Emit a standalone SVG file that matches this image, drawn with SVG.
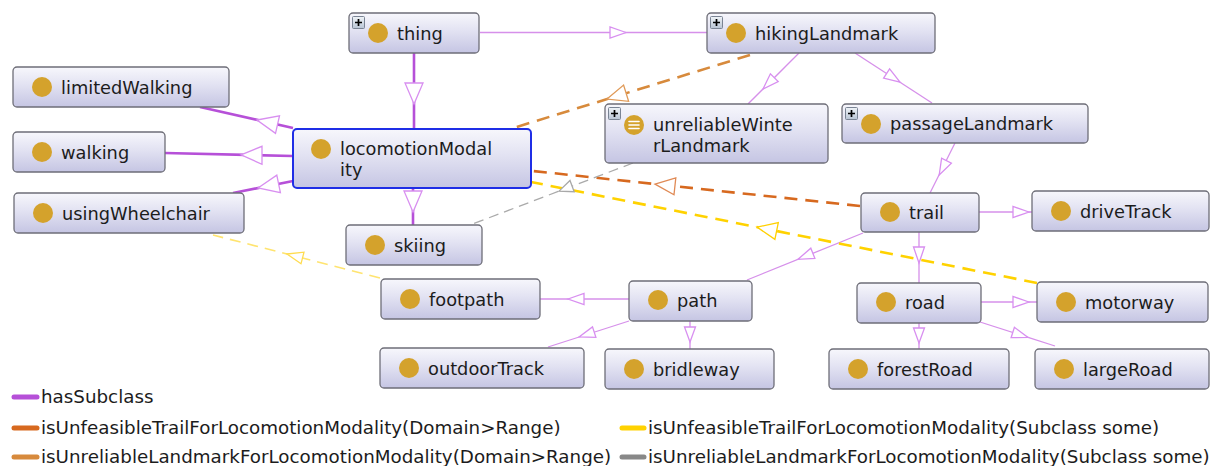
<svg xmlns="http://www.w3.org/2000/svg" width="1211" height="466" viewBox="0 0 1211 466">
<style>
.node{fill:url(#ng);stroke:#6e6e78;stroke-width:1.3}
.sel{fill:url(#ng);stroke:#1f2ee6;stroke-width:2}
.dot{fill:#d4a22c}
.lbl{font-family:"DejaVu Sans",sans-serif;font-size:17.8px;fill:#1c1c1c}
.leg{font-family:"DejaVu Sans",sans-serif;font-size:18.3px;fill:#1c1c1c}
.sub{stroke:#d690ea;stroke-width:1.3;fill:none}
.subT{stroke:#b650d8;stroke-width:2.6;fill:none}
.ah{fill:#fff;stroke:#d88ff0;stroke-width:1.3}
.ufd{stroke:#d7691f;stroke-width:2.6;fill:none;stroke-dasharray:13 8}
.urd{stroke:#d78a3c;stroke-width:2.6;fill:none;stroke-dasharray:13 8}
.ufs{stroke:#ffd200;stroke-width:2.6;fill:none;stroke-dasharray:13 8}
.ufs2{stroke:#ffe470;stroke-width:1.6;fill:none;stroke-dasharray:11 7}
.urs{stroke:#aaaaaa;stroke-width:1.3;fill:none;stroke-dasharray:10 6}
.ahufd{fill:#fff;stroke:#e08a55;stroke-width:1.3}
.ahurd{fill:#fff;stroke:#e09a58;stroke-width:1.3}
.ahufs{fill:#fff;stroke:#ffd000;stroke-width:1.3}
.ahufs2{fill:#fff;stroke:#ffdc50;stroke-width:1.3}
.ahurs{fill:#fff;stroke:#a8a8a8;stroke-width:1.3}
</style>
<defs>
<linearGradient id="ng" x1="0" y1="0" x2="0" y2="1">
<stop offset="0" stop-color="#f7f7fc"/>
<stop offset="0.45" stop-color="#e2e2f2"/>
<stop offset="1" stop-color="#c5c5e3"/>
</linearGradient>
<linearGradient id="pg" x1="0" y1="0" x2="0" y2="1">
<stop offset="0" stop-color="#f0f4f8"/>
<stop offset="1" stop-color="#b8c4d4"/>
</linearGradient>
<g id="plus">
<rect x="0.5" y="0.5" width="12" height="12" rx="1" fill="url(#pg)" stroke="#7a8494" stroke-width="1"/>
<path d="M3 6.5h7M6.5 3v7" stroke="#000" stroke-width="1.7"/>
</g>
</defs>

<g id="connectors">
<!-- hasSubclass -->
<line class="sub" x1="480" y1="32.5" x2="707" y2="32.5"/>
<polygon class="ah" points="626,32.5 610,27 610,38"/>
<line class="subT" x1="414" y1="53" x2="414" y2="129"/>
<polygon class="ah" points="414,104 405,83 423,83"/>
<line class="subT" x1="293" y1="128" x2="200" y2="107"/>
<polygon class="ah" points="257,120 279.5,115.8 275.5,133.4"/>
<line class="subT" x1="293" y1="156" x2="165" y2="153"/>
<polygon class="ah" points="241,154.8 262,146.3 262,164.3"/>
<line class="subT" x1="293" y1="181" x2="233" y2="193"/>
<polygon class="ah" points="258,188 276.8,175.1 280.4,192.7"/>
<line class="subT" x1="413" y1="188" x2="413" y2="225"/>
<polygon class="ah" points="413,212 404,191 422,191"/>
<line class="sub" x1="799" y1="53" x2="748" y2="104"/>
<polygon class="ah" points="763,89 770.4,73.8 778.2,81.6"/>
<line class="sub" x1="855" y1="53" x2="932" y2="103"/>
<polygon class="ah" points="900,82.2 883.6,78.1 889.6,68.9"/>
<line class="sub" x1="955" y1="143" x2="930" y2="193"/>
<polygon class="ah" points="939.2,175 941.6,158.2 951.4,163.2"/>
<line class="sub" x1="979" y1="212" x2="1032" y2="212"/>
<polygon class="ah" points="1029,212 1013,206.5 1013,217.5"/>
<line class="sub" x1="919" y1="232" x2="919" y2="283"/>
<polygon class="ah" points="919,263 913.5,247 924.5,247"/>
<line class="sub" x1="863" y1="233" x2="747" y2="280"/>
<polygon class="ah" points="798,259.3 810.8,248.2 814.9,258.4"/>
<line class="sub" x1="981" y1="302" x2="1037" y2="302"/>
<polygon class="ah" points="1029,302 1013,296.5 1013,307.5"/>
<line class="sub" x1="919" y1="323" x2="919" y2="349"/>
<polygon class="ah" points="919,343 913.5,328 924.5,328"/>
<line class="sub" x1="980" y1="322" x2="1055" y2="346"/>
<polygon class="ah" points="1028,337.4 1011.1,337.7 1014.4,327.3"/>
<line class="sub" x1="629" y1="299" x2="540" y2="299"/>
<polygon class="ah" points="568,299 584,293.5 584,304.5"/>
<line class="sub" x1="629" y1="321" x2="548" y2="347"/>
<polygon class="ah" points="579,337 592.5,326.9 595.9,337.3"/>
<line class="sub" x1="690" y1="321" x2="690" y2="349"/>
<polygon class="ah" points="690,342 684.5,327 695.5,327"/>
<!-- object properties -->
<line class="urd" x1="750" y1="55" x2="510" y2="129"/>
<polygon class="ahurd" points="607,99.1 623.6,85.1 628.6,101.3"/>
<line class="ufd" x1="860" y1="206" x2="533" y2="171"/>
<polygon class="ahufd" points="655,184.1 675.8,177.8 674,194.7"/>
<line class="ufs" x1="1037" y1="283" x2="531" y2="182"/>
<polygon class="ahufs" points="757,227.1 778.3,222.7 774.9,239.3"/>
<line class="ufs2" x1="380" y1="278" x2="213" y2="235"/>
<polygon class="ahufs2" points="287,254 304,252.2 301,263.8"/>
<line class="urs" x1="633" y1="163" x2="470" y2="225"/>
<polygon class="ahurs" points="559,191.1 570,180.5 574.2,191.7"/>
</g>

<g id="n-thing"><rect class="node" x="349" y="13" width="130" height="40" rx="4"/><circle class="dot" cx="378" cy="33" r="10"/><text class="lbl" x="397" y="39.5">thing</text><use href="#plus" x="352" y="16"/></g>
<g id="n-hikingLandmark"><rect class="node" x="707" y="13" width="228" height="40" rx="4"/><circle class="dot" cx="736" cy="33" r="10"/><text class="lbl" x="755" y="39.5">hikingLandmark</text><use href="#plus" x="710" y="16"/></g>
<g id="n-limitedWalking"><rect class="node" x="13" y="67" width="216" height="40" rx="4"/><circle class="dot" cx="42" cy="87" r="10"/><text class="lbl" x="61" y="93.5">limitedWalking</text></g>
<g id="n-walking"><rect class="node" x="13" y="132" width="152" height="40" rx="4"/><circle class="dot" cx="42" cy="152" r="10"/><text class="lbl" x="61" y="158.5">walking</text></g>
<g id="n-usingWheelchair"><rect class="node" x="14" y="193" width="230" height="40" rx="4"/><circle class="dot" cx="43" cy="213" r="10"/><text class="lbl" x="62" y="219.5">usingWheelchair</text></g>
<g id="n-locomotionModality"><rect class="sel" x="293" y="129" width="238" height="59" rx="4"/><circle class="dot" cx="321" cy="149" r="10"/><text class="lbl" x="340" y="155">locomotionModal</text><text class="lbl" x="340" y="176">ity</text></g>
<g id="n-unreliableWinterLandmark"><rect class="node" x="605" y="104" width="223" height="59" rx="4"/><circle class="dot" cx="634" cy="125" r="10"/><path d="M629 121.5h10M629 125h10M629 128.5h10" stroke="#fff" stroke-width="1.6" stroke-linecap="round"/><text class="lbl" x="653" y="131">unreliableWinte</text><text class="lbl" x="653" y="152">rLandmark</text><use href="#plus" x="608" y="107"/></g>
<g id="n-passageLandmark"><rect class="node" x="842" y="104" width="246" height="39" rx="4"/><circle class="dot" cx="871" cy="124" r="10"/><text class="lbl" x="890" y="130">passageLandmark</text><use href="#plus" x="845" y="107"/></g>
<g id="n-skiing"><rect class="node" x="346" y="225" width="136" height="40" rx="4"/><circle class="dot" cx="375" cy="245" r="10"/><text class="lbl" x="394" y="251.5">skiing</text></g>
<g id="n-trail"><rect class="node" x="861" y="193" width="118" height="39" rx="4"/><circle class="dot" cx="890" cy="212" r="10"/><text class="lbl" x="909" y="218.5">trail</text></g>
<g id="n-driveTrack"><rect class="node" x="1032" y="191" width="177" height="40" rx="4"/><circle class="dot" cx="1061" cy="211" r="10"/><text class="lbl" x="1080" y="217.5">driveTrack</text></g>
<g id="n-footpath"><rect class="node" x="381" y="279" width="159" height="40" rx="4"/><circle class="dot" cx="410" cy="299" r="10"/><text class="lbl" x="429" y="305.5">footpath</text></g>
<g id="n-path"><rect class="node" x="629" y="281" width="123" height="40" rx="4"/><circle class="dot" cx="658" cy="300" r="10"/><text class="lbl" x="677" y="306.5">path</text></g>
<g id="n-road"><rect class="node" x="857" y="283" width="124" height="40" rx="4"/><circle class="dot" cx="886" cy="302" r="10"/><text class="lbl" x="905" y="308.5">road</text></g>
<g id="n-motorway"><rect class="node" x="1037" y="282" width="171" height="40" rx="4"/><circle class="dot" cx="1066" cy="302" r="10"/><text class="lbl" x="1085" y="308.5">motorway</text></g>
<g id="n-outdoorTrack"><rect class="node" x="380" y="348" width="204" height="40" rx="4"/><circle class="dot" cx="409" cy="368" r="10"/><text class="lbl" x="428" y="374.5">outdoorTrack</text></g>
<g id="n-bridleway"><rect class="node" x="605" y="349" width="169" height="40" rx="4"/><circle class="dot" cx="634" cy="369" r="10"/><text class="lbl" x="653" y="375.5">bridleway</text></g>
<g id="n-forestRoad"><rect class="node" x="829" y="349" width="180" height="40" rx="4"/><circle class="dot" cx="858" cy="369" r="10"/><text class="lbl" x="877" y="375.5">forestRoad</text></g>
<g id="n-largeRoad"><rect class="node" x="1035" y="349" width="174" height="40" rx="4"/><circle class="dot" cx="1064" cy="369" r="10"/><text class="lbl" x="1083" y="375.5">largeRoad</text></g>

<g id="legend">
<line x1="14" y1="397" x2="37" y2="397" stroke="#b650d8" stroke-width="5" stroke-linecap="round"/>
<text class="leg" x="41" y="403">hasSubclass</text>
<line x1="14" y1="428" x2="37" y2="428" stroke="#d7691f" stroke-width="5" stroke-linecap="round"/>
<text class="leg" x="41" y="434">isUnfeasibleTrailForLocomotionModality(Domain&gt;Range)</text>
<line x1="14" y1="457" x2="37" y2="457" stroke="#d78a3c" stroke-width="5" stroke-linecap="round"/>
<text class="leg" x="41" y="463">isUnreliableLandmarkForLocomotionModality(Domain&gt;Range)</text>
<line x1="622" y1="428" x2="644" y2="428" stroke="#ffd200" stroke-width="5" stroke-linecap="round"/>
<text class="leg" x="648" y="434">isUnfeasibleTrailForLocomotionModality(Subclass some)</text>
<line x1="622" y1="457" x2="644" y2="457" stroke="#888888" stroke-width="5" stroke-linecap="round"/>
<text class="leg" x="648" y="463">isUnreliableLandmarkForLocomotionModality(Subclass some)</text>
</g>
</svg>
